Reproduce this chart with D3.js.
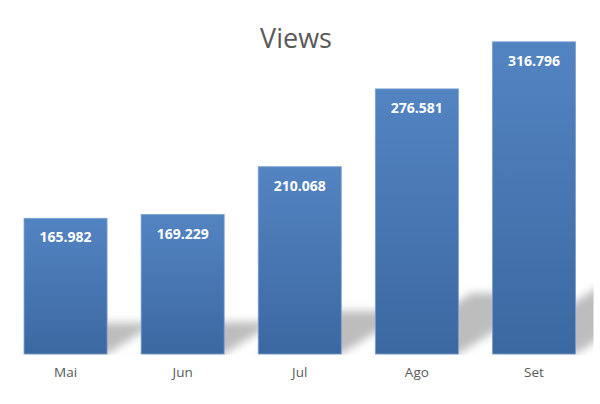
<!DOCTYPE html>
<html>
<head>
<meta charset="utf-8">
<script src="https://cdn.jsdelivr.net/npm/d3@7"></script>
<style>
  body { margin: 0; background: #fff; }
  svg { display: block; }
</style>
</head>
<body>
<svg width="600" height="404"></svg>
<script>
// data
const months = ["Mai", "Jun", "Jul", "Ago", "Set"];
const views = [165.982, 169.229, 210.068, 276.581, 316.796];
const chartTitle = "Views";

const svg = d3.select("svg"),
    width = +svg.attr("width"),
    height = +svg.attr("height");

const plot = { left: 7, right: 592.5, top: 3, bottom: 354 };

const x = d3.scaleBand()
    .domain(months)
    .range([plot.left, plot.right])
    .paddingInner(0.291)
    .paddingOuter(0.1455);

// value axis starts at 50 like the original
const y = d3.scaleLinear()
    .domain([50, 350])
    .range([plot.bottom, plot.top]);

const fmt = d => d3.format(".3f")(d);

const defs = svg.append("defs");

const grad = defs.append("linearGradient")
    .attr("id", "barGrad")
    .attr("x1", 0).attr("y1", 0).attr("x2", 0).attr("y2", 1);
grad.append("stop").attr("offset", "0%").attr("stop-color", "#5384c2");
grad.append("stop").attr("offset", "100%").attr("stop-color", "#3c68a1");

defs.append("filter")
    .attr("id", "blur")
    .attr("x", "-30%").attr("y", "-60%").attr("width", "160%").attr("height", "220%")
    .append("feGaussianBlur").attr("stdDeviation", 4);

defs.append("clipPath").attr("id", "plotClip")
    .append("rect")
    .attr("x", 0).attr("y", 0)
    .attr("width", 593.5).attr("height", plot.bottom + 1);

// perspective shadows (diagonal upper right): squashed to 23% and skewed 20deg
svg.append("g")
    .attr("clip-path", "url(#plotClip)")
    .selectAll("path")
    .data(months)
    .join("path")
    .attr("fill", "#000")
    .attr("fill-opacity", 0.26)
    .attr("filter", "url(#blur)")
    .attr("d", (d, i) => {
        const x0 = x(d), x1 = x(d) + x.bandwidth();
        const H = plot.bottom - y(views[i]);
        const h = H * 0.23;
        const dx = H * Math.tan(20 * Math.PI / 180);
        const b = plot.bottom;
        return `M${x0},${b}L${x1},${b}L${x1 + dx},${b - h}L${x0 + dx},${b - h}Z`;
    });

// bars
svg.append("g")
    .selectAll("rect")
    .data(months)
    .join("rect")
    .attr("x", d => x(d))
    .attr("y", (d, i) => y(views[i]))
    .attr("width", x.bandwidth())
    .attr("height", (d, i) => plot.bottom - y(views[i]))
    .attr("fill", "url(#barGrad)")
    .attr("stroke", "#7a9fd0")
    .attr("stroke-width", 0.8);

// value labels
svg.append("g")
    .selectAll("text")
    .data(months)
    .join("text")
    .attr("x", d => x(d) + x.bandwidth() / 2)
    .attr("y", (d, i) => y(views[i]) + 24)
    .attr("text-anchor", "middle")
    .style("font-family", "'Open Sans', sans-serif")
    .style("font-weight", "bold")
    .style("font-size", "14px")
    .style("fill", "#fff")
    .text((d, i) => fmt(views[i]));

// category axis
const xAxis = svg.append("g")
    .attr("transform", `translate(0,${plot.bottom})`)
    .call(d3.axisBottom(x).tickSize(0).tickPadding(13));
xAxis.select(".domain").remove();
xAxis.selectAll("text")
    .style("font-family", "'Open Sans', sans-serif")
    .style("font-size", "13.5px")
    .style("fill", "#595959");

// title
svg.append("text")
    .attr("x", 296)
    .attr("y", 48)
    .attr("text-anchor", "middle")
    .style("font-family", "'Open Sans', sans-serif")
    .style("font-size", "27px")
    .style("fill", "#595959")
    .text(chartTitle);
</script>
</body>
</html>
